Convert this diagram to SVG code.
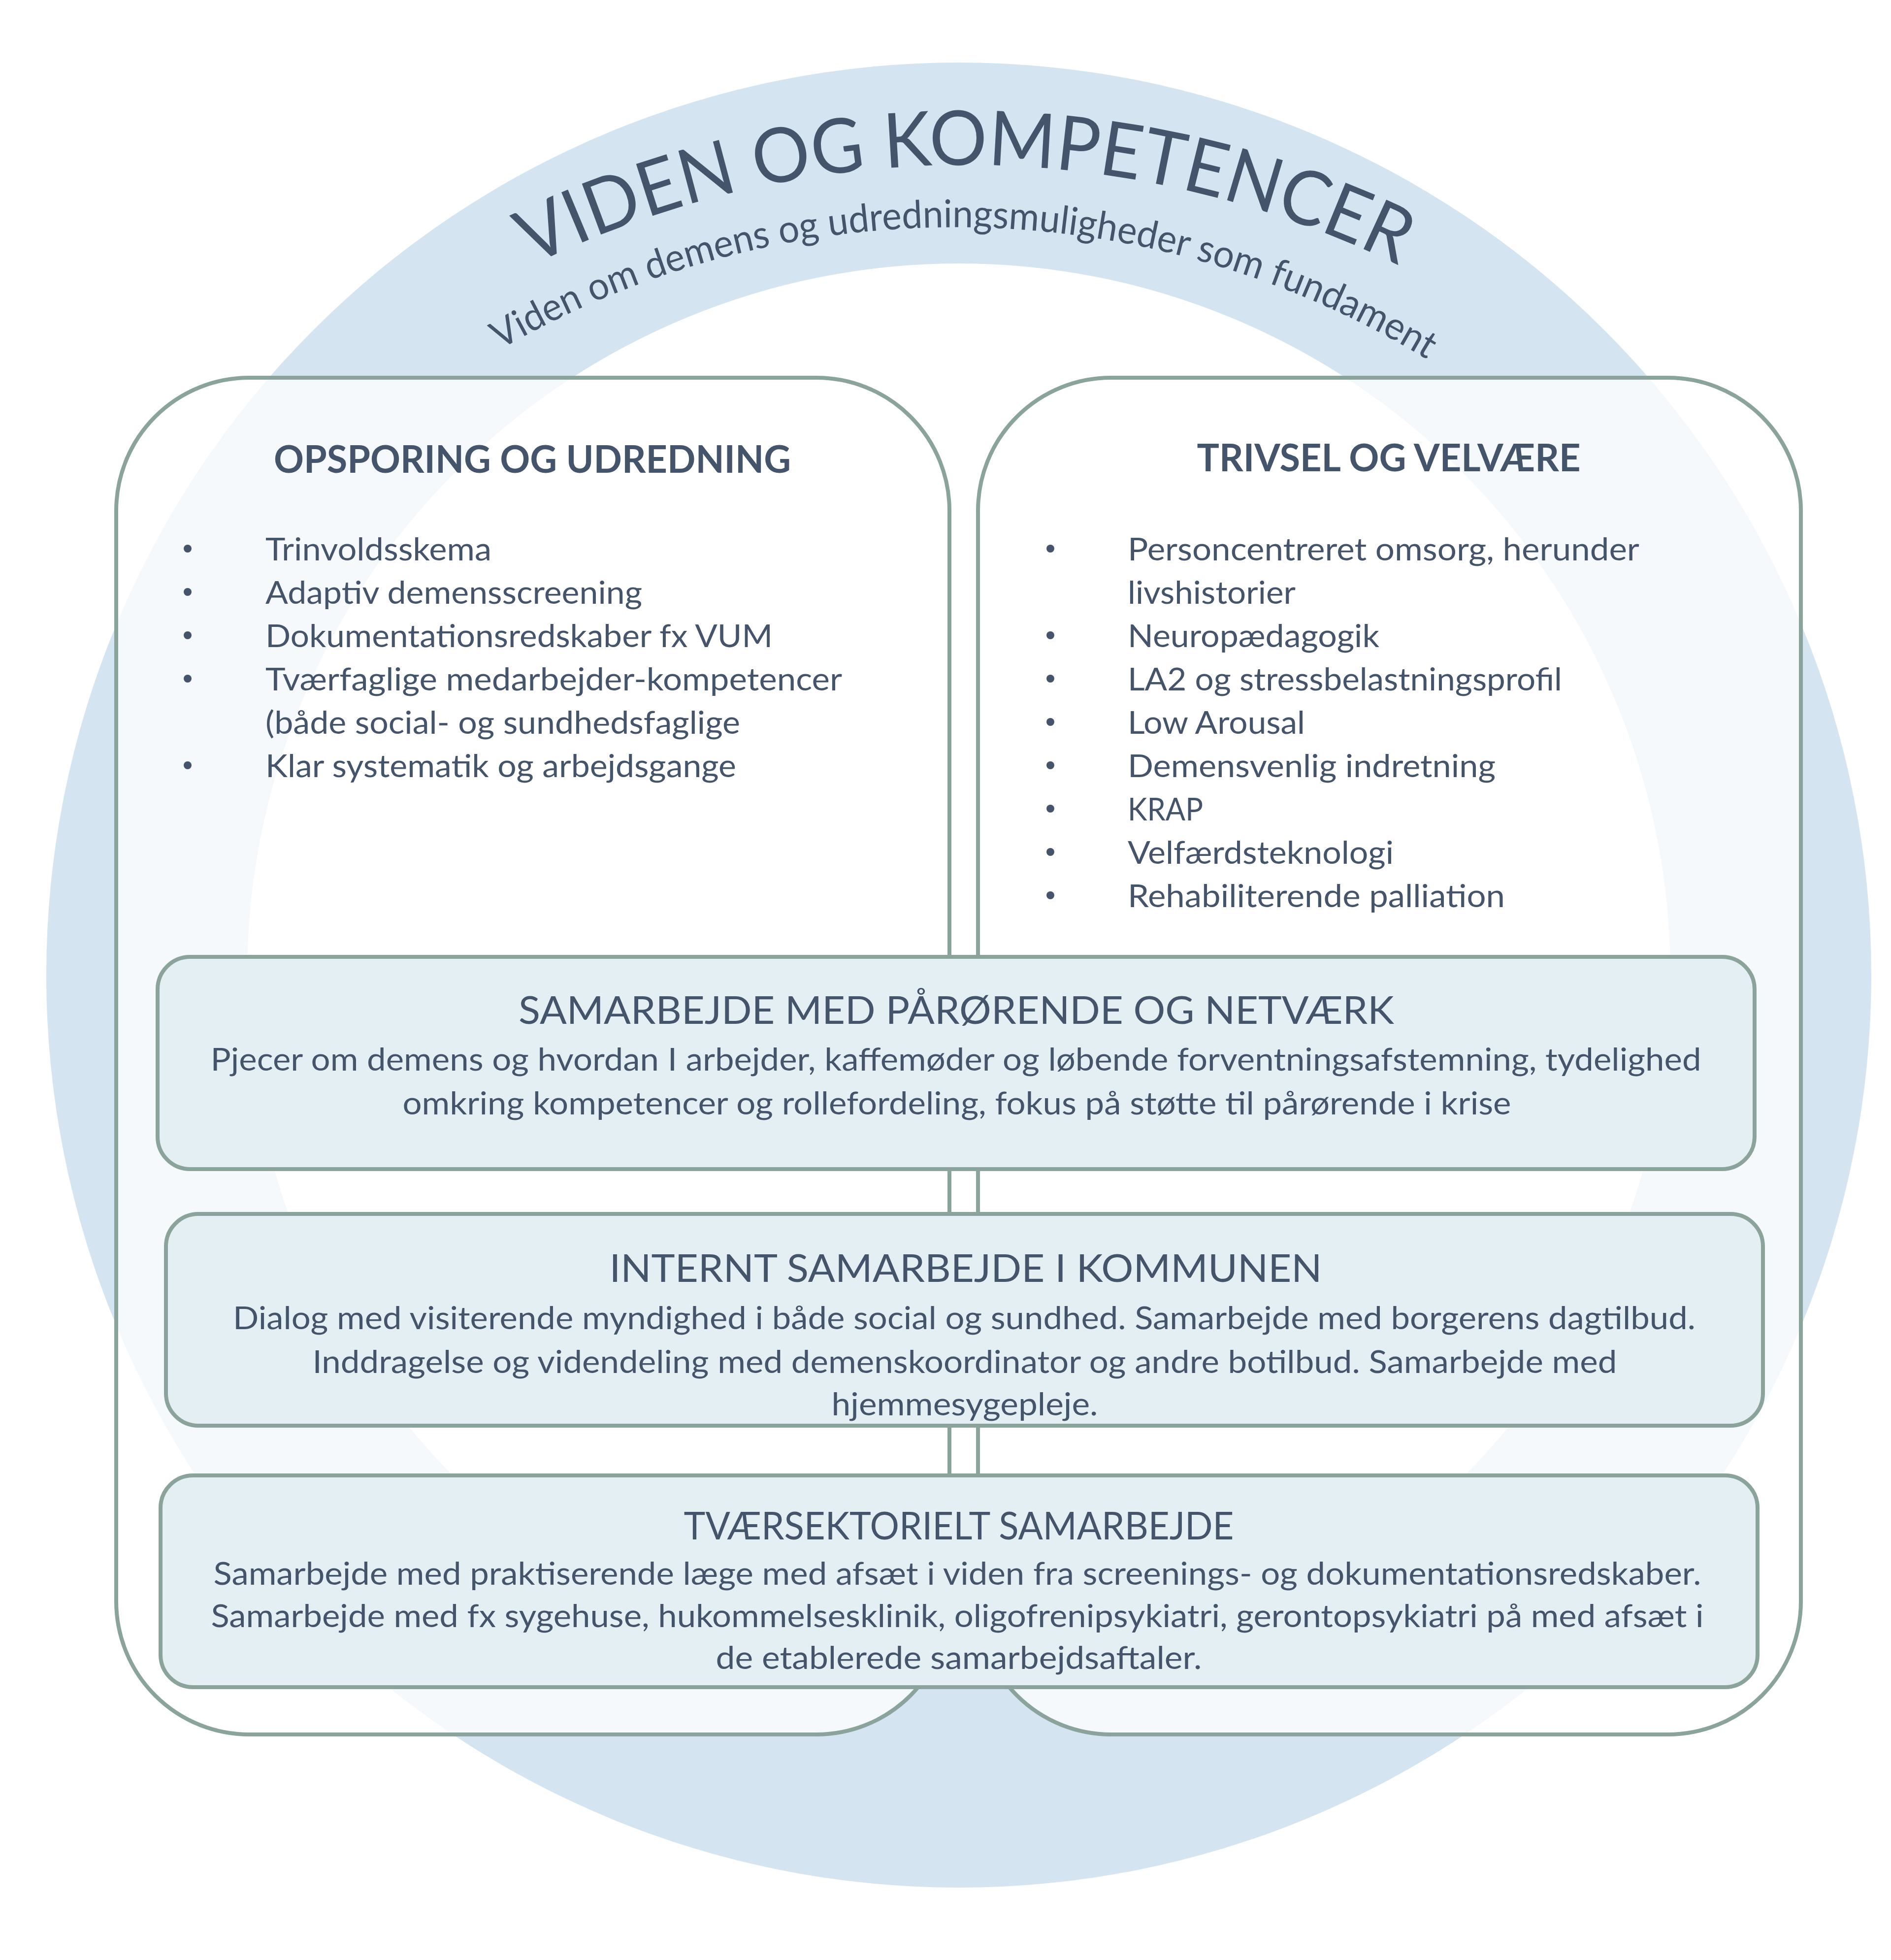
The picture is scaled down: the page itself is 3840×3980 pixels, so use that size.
<svg xmlns="http://www.w3.org/2000/svg" xmlns:xlink="http://www.w3.org/1999/xlink" width="3840" height="3980" viewBox="0 0 3840 3980">
<style>
  .bg { fill: #ffffff; }
  .ring { fill: #D4E5F1; }
  .hole { fill: #ffffff; }
  .col { fill: #ffffff; fill-opacity: 0.77; stroke: #8AA39B; stroke-width: 8; }
  .band { fill: #E4EFF4; stroke: #8AA39B; stroke-width: 8; }
  text { font-family: Lato, "Open Sans", "Liberation Sans", sans-serif; fill: #44546A; }
  .arc-title { font-size: 154px; }
  .arc-sub { font-size: 78px; }
  .hdr { font-size: 76px; font-weight: bold; text-anchor: middle; }
  .li { font-size: 64px; }
  .btitle { font-size: 78px; text-anchor: middle; }
  .btext { font-size: 63px; text-anchor: middle; }
  .dot { fill: #44546A; }
</style>
<defs>
  <path id="titleArc" d="M228,1335 A2000,2000 0 0 1 3692,1335"/>
  <path id="subArc" d="M345,1382 A1842,1842 0 0 1 3535,1382"/>
</defs>
<rect class="bg" x="0" y="0" width="3840" height="3980"/>

<g id="ring">
  <circle class="ring" cx="1947" cy="1980" r="1853"/>
  <circle class="hole" cx="1947" cy="1980" r="1445"/>
</g>

<g id="title">
  <text class="arc-title"><textPath xlink:href="#titleArc" href="#titleArc" startOffset="50%" text-anchor="middle" textLength="1822" lengthAdjust="spacingAndGlyphs">VIDEN OG KOMPETENCER</textPath></text>
  <text class="arc-sub"><textPath xlink:href="#subArc" href="#subArc" startOffset="1948" text-anchor="middle" textLength="1975" lengthAdjust="spacingAndGlyphs">Viden om demens og udredningsmuligheder som fundament</textPath></text>
</g>

<g id="box-opsporing">
  <rect class="col" x="236" y="767" width="1692" height="2755" rx="270" ry="270"/>
  <text class="hdr" x="1081" y="960" textLength="1050" lengthAdjust="spacingAndGlyphs">OPSPORING OG UDREDNING</text>
  <circle class="dot" cx="381" cy="1114" r="8"/>
  <text class="li" x="539" y="1138" textLength="459" lengthAdjust="spacingAndGlyphs">Trinvoldsskema</text>
  <circle class="dot" cx="381" cy="1202" r="8"/>
  <text class="li" x="539" y="1226" textLength="765" lengthAdjust="spacingAndGlyphs">Adaptiv demensscreening</text>
  <circle class="dot" cx="381" cy="1290" r="8"/>
  <text class="li" x="539" y="1314" textLength="1030" lengthAdjust="spacingAndGlyphs">Dokumentationsredskaber fx VUM</text>
  <circle class="dot" cx="381" cy="1378" r="8"/>
  <text class="li" x="539" y="1402" textLength="1171" lengthAdjust="spacingAndGlyphs">Tværfaglige medarbejder-kompetencer</text>
  <text class="li" x="539" y="1490" textLength="964" lengthAdjust="spacingAndGlyphs">(både social- og sundhedsfaglige</text>
  <circle class="dot" cx="381" cy="1554" r="8"/>
  <text class="li" x="539" y="1578" textLength="956" lengthAdjust="spacingAndGlyphs">Klar systematik og arbejdsgange</text>
</g>

<g id="box-trivsel">
  <rect class="col" x="1986" y="767" width="1671" height="2755" rx="270" ry="270"/>
  <text class="hdr" x="2820" y="957" textLength="779" lengthAdjust="spacingAndGlyphs">TRIVSEL OG VELVÆRE</text>
  <circle class="dot" cx="2133" cy="1114" r="8"/>
  <text class="li" x="2290" y="1138" textLength="1039" lengthAdjust="spacingAndGlyphs">Personcentreret omsorg, herunder</text>
  <text class="li" x="2290" y="1226" textLength="341" lengthAdjust="spacingAndGlyphs">livshistorier</text>
  <circle class="dot" cx="2133" cy="1290" r="8"/>
  <text class="li" x="2290" y="1314" textLength="511" lengthAdjust="spacingAndGlyphs">Neuropædagogik</text>
  <circle class="dot" cx="2133" cy="1378" r="8"/>
  <text class="li" x="2290" y="1402" textLength="882" lengthAdjust="spacingAndGlyphs">LA2 og stressbelastningsprofil</text>
  <circle class="dot" cx="2133" cy="1466" r="8"/>
  <text class="li" x="2290" y="1490" textLength="360" lengthAdjust="spacingAndGlyphs">Low Arousal</text>
  <circle class="dot" cx="2133" cy="1554" r="8"/>
  <text class="li" x="2290" y="1578" textLength="747" lengthAdjust="spacingAndGlyphs">Demensvenlig indretning</text>
  <circle class="dot" cx="2133" cy="1642" r="8"/>
  <text class="li" x="2290" y="1666" textLength="153" lengthAdjust="spacingAndGlyphs">KRAP</text>
  <circle class="dot" cx="2133" cy="1730" r="8"/>
  <text class="li" x="2290" y="1754" textLength="540" lengthAdjust="spacingAndGlyphs">Velfærdsteknologi</text>
  <circle class="dot" cx="2133" cy="1818" r="8"/>
  <text class="li" x="2290" y="1842" textLength="766" lengthAdjust="spacingAndGlyphs">Rehabiliterende palliation</text>
</g>

<g id="box-paaroerende">
  <rect class="band" x="320" y="1943" width="3243" height="431" rx="66" ry="66"/>
  <text class="btitle" x="1942" y="2079" textLength="1778" lengthAdjust="spacingAndGlyphs">SAMARBEJDE MED PÅRØRENDE OG NETVÆRK</text>
  <text class="btext" x="1941" y="2174" textLength="3027" lengthAdjust="spacingAndGlyphs">Pjecer om demens og hvordan I arbejder, kaffemøder og løbende forventningsafstemning, tydelighed</text>
  <text class="btext" x="1943" y="2263" textLength="2251" lengthAdjust="spacingAndGlyphs">omkring kompetencer og rollefordeling, fokus på støtte til pårørende i krise</text>
</g>

<g id="box-internt">
  <rect class="band" x="337" y="2465" width="3243" height="430" rx="66" ry="66"/>
  <text class="btitle" x="1961" y="2603" textLength="1447" lengthAdjust="spacingAndGlyphs">INTERNT SAMARBEJDE I KOMMUNEN</text>
  <text class="btext" x="1958" y="2699" textLength="2970" lengthAdjust="spacingAndGlyphs">Dialog med visiterende myndighed i både social og sundhed. Samarbejde med borgerens dagtilbud.</text>
  <text class="btext" x="1959" y="2788" textLength="2649" lengthAdjust="spacingAndGlyphs">Inddragelse og videndeling med demenskoordinator og andre botilbud. Samarbejde med</text>
  <text class="btext" x="1959" y="2874" textLength="541" lengthAdjust="spacingAndGlyphs">hjemmesygepleje.</text>
</g>

<g id="box-tvaersektorielt">
  <rect class="band" x="326" y="2996" width="3243" height="430" rx="66" ry="66"/>
  <text class="btitle" x="1947" y="3126" textLength="1117" lengthAdjust="spacingAndGlyphs">TVÆRSEKTORIELT SAMARBEJDE</text>
  <text class="btext" x="1944" y="3218" textLength="3021" lengthAdjust="spacingAndGlyphs">Samarbejde med praktiserende læge med afsæt i viden fra screenings- og dokumentationsredskaber.</text>
  <text class="btext" x="1944" y="3304" textLength="3031" lengthAdjust="spacingAndGlyphs">Samarbejde med fx sygehuse, hukommelsesklinik, oligofrenipsykiatri, gerontopsykiatri på med afsæt i</text>
  <text class="btext" x="1947" y="3389" textLength="987" lengthAdjust="spacingAndGlyphs">de etablerede samarbejdsaftaler.</text>
</g>
</svg>
